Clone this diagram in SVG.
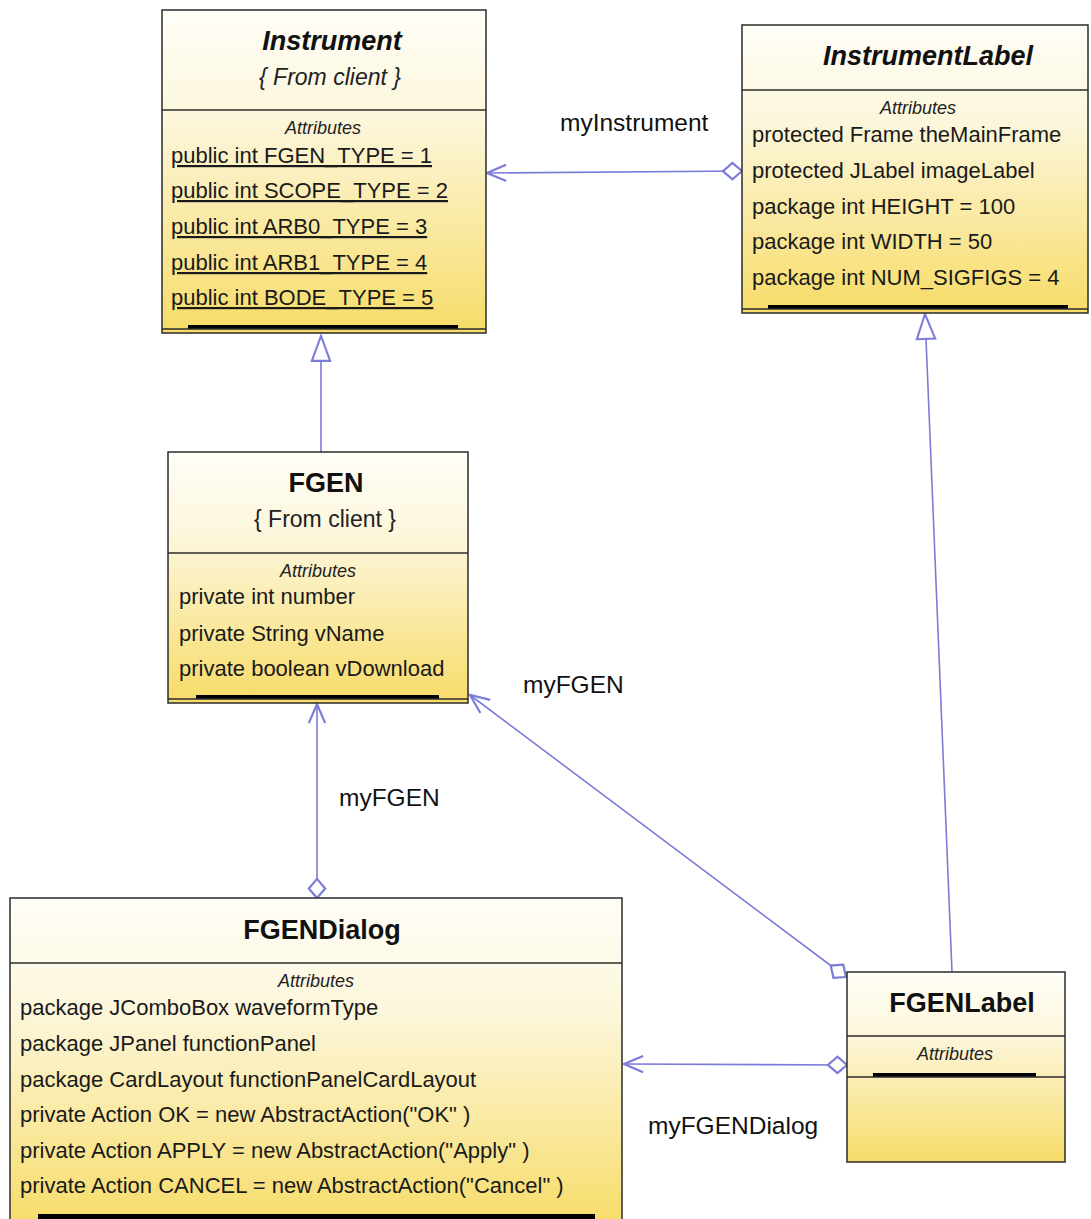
<svg xmlns="http://www.w3.org/2000/svg" width="1091" height="1219" viewBox="0 0 1091 1219">
  <style>
    .box { stroke: #2b2b2b; stroke-width: 1.5; fill: url(#classFill); }
    .div { stroke: #2b2b2b; stroke-width: 1.5; }
    .bar { fill: #000; }
    .title { font-family: "Liberation Sans", Arial, sans-serif; font-size: 27px; font-weight: bold; fill: #111; text-anchor: middle; }
    .abstract { font-style: italic; }
    .stereo { font-family: "Liberation Sans", Arial, sans-serif; font-size: 23px; fill: #222; text-anchor: middle; }
    .sect { font-family: "Liberation Sans", Arial, sans-serif; font-size: 18px; font-style: italic; fill: #222; text-anchor: middle; }
    .attr { font-family: "Liberation Sans", Arial, sans-serif; font-size: 22px; fill: #1a1a1a; }
    .static { text-decoration: underline; }
    .conn { stroke: #7b7bd8; stroke-width: 1.6; fill: none; }
    .role { font-family: "Liberation Sans", Arial, sans-serif; font-size: 24.5px; fill: #111; }
  </style>
  <defs>
    <linearGradient id="classFill" x1="0" y1="0" x2="0" y2="1">
      <stop offset="0" stop-color="#fffef8"/>
      <stop offset="0.35" stop-color="#fcf6da"/>
      <stop offset="1" stop-color="#f7dc68"/>
    </linearGradient>
    <marker id="openArrow" markerUnits="userSpaceOnUse" markerWidth="30" markerHeight="30" viewBox="-20 -10 22 20" refX="0" refY="0" orient="auto">
      <path d="M-14,-6 L0,0 L-14,6" fill="none" stroke="#7b7bd8" stroke-width="1.6"/>
    </marker>
    <marker id="diamond" markerUnits="userSpaceOnUse" markerWidth="30" markerHeight="30" viewBox="-2 -10 22 20" refX="0" refY="0" orient="auto">
      <path d="M0,0 L7,-6 L14,0 L7,6 Z" fill="#fff" stroke="#7b7bd8" stroke-width="1.6"/>
    </marker>
    <marker id="hollowTri" markerUnits="userSpaceOnUse" markerWidth="34" markerHeight="34" viewBox="-24 -12 26 24" refX="0" refY="0" orient="auto">
      <path d="M-19,-7 L0,0 L-19,7 Z" fill="#fff" stroke="#7b7bd8" stroke-width="1.6"/>
    </marker>
  </defs>
  <rect width="1091" height="1219" fill="#fff"/>

  <!-- associations and generalizations -->
  <g id="connectors">
    <line class="conn" x1="742" y1="171" x2="487" y2="173" marker-start="url(#diamond)" marker-end="url(#openArrow)"/>
    <line class="conn" x1="321" y1="452" x2="321" y2="336" marker-end="url(#hollowTri)"/>
    <line class="conn" x1="952" y1="972" x2="925" y2="314" marker-end="url(#hollowTri)"/>
    <line class="conn" x1="317" y1="898" x2="317" y2="704" marker-start="url(#diamond)" marker-end="url(#openArrow)"/>
    <line class="conn" x1="846" y1="977" x2="470" y2="695" marker-start="url(#diamond)" marker-end="url(#openArrow)"/>
    <line class="conn" x1="847" y1="1065" x2="624" y2="1064" marker-start="url(#diamond)" marker-end="url(#openArrow)"/>
    <text class="role" x="560" y="131">myInstrument</text>
    <text class="role" x="523" y="693">myFGEN</text>
    <text class="role" x="339" y="806">myFGEN</text>
    <text class="role" x="648" y="1134">myFGENDialog</text>
  </g>

  <!-- Instrument (abstract) -->
  <g id="Instrument">
    <rect class="box" x="162" y="10" width="324" height="323"/>
    <line class="div" x1="162" y1="110" x2="486" y2="110"/>
    <text class="title abstract" x="332" y="50">Instrument</text>
    <text class="stereo abstract" x="330" y="85">{ From client }</text>
    <text class="sect" x="323" y="134">Attributes</text>
    <text class="attr static" x="171" y="163">public int FGEN_TYPE = 1</text>
    <text class="attr static" x="171" y="198">public int SCOPE_TYPE = 2</text>
    <text class="attr static" x="171" y="234">public int ARB0_TYPE = 3</text>
    <text class="attr static" x="171" y="270">public int ARB1_TYPE = 4</text>
    <text class="attr static" x="171" y="305">public int BODE_TYPE = 5</text>
    <rect class="bar" x="188" y="325" width="270" height="4"/>
    <line class="div" x1="162" y1="329" x2="486" y2="329"/>
  </g>

  <!-- InstrumentLabel (abstract) -->
  <g id="InstrumentLabel">
    <rect class="box" x="742" y="25" width="346" height="288"/>
    <line class="div" x1="742" y1="90" x2="1088" y2="90"/>
    <text class="title abstract" x="928" y="65">InstrumentLabel</text>
    <text class="sect" x="918" y="114">Attributes</text>
    <text class="attr" x="752" y="142">protected Frame theMainFrame</text>
    <text class="attr" x="752" y="178">protected JLabel imageLabel</text>
    <text class="attr" x="752" y="214">package int HEIGHT = 100</text>
    <text class="attr" x="752" y="249">package int WIDTH = 50</text>
    <text class="attr" x="752" y="285">package int NUM_SIGFIGS = 4</text>
    <rect class="bar" x="768" y="305" width="300" height="4"/>
    <line class="div" x1="742" y1="309" x2="1088" y2="309"/>
  </g>

  <!-- FGEN -->
  <g id="FGEN">
    <rect class="box" x="168" y="452" width="300" height="251"/>
    <line class="div" x1="168" y1="553" x2="468" y2="553"/>
    <text class="title" x="326" y="492">FGEN</text>
    <text class="stereo" x="325" y="527">{ From client }</text>
    <text class="sect" x="318" y="577">Attributes</text>
    <text class="attr" x="179" y="604">private int number</text>
    <text class="attr" x="179" y="641">private String vName</text>
    <text class="attr" x="179" y="676">private boolean vDownload</text>
    <rect class="bar" x="196" y="695" width="243" height="4"/>
    <line class="div" x1="168" y1="699" x2="468" y2="699"/>
  </g>

  <!-- FGENDialog -->
  <g id="FGENDialog">
    <rect class="box" x="10" y="898" width="612" height="330"/>
    <line class="div" x1="10" y1="963" x2="622" y2="963"/>
    <text class="title" x="322" y="939">FGENDialog</text>
    <text class="sect" x="316" y="987">Attributes</text>
    <text class="attr" x="20" y="1015">package JComboBox waveformType</text>
    <text class="attr" x="20" y="1051">package JPanel functionPanel</text>
    <text class="attr" x="20" y="1087">package CardLayout functionPanelCardLayout</text>
    <text class="attr" x="20" y="1122">private Action OK = new AbstractAction("OK" )</text>
    <text class="attr" x="20" y="1158">private Action APPLY = new AbstractAction("Apply" )</text>
    <text class="attr" x="20" y="1193">private Action CANCEL = new AbstractAction("Cancel" )</text>
    <rect class="bar" x="38" y="1214" width="557" height="5"/>
  </g>

  <!-- FGENLabel -->
  <g id="FGENLabel">
    <rect class="box" x="847" y="972" width="218" height="190"/>
    <line class="div" x1="847" y1="1036" x2="1065" y2="1036"/>
    <text class="title" x="962" y="1012">FGENLabel</text>
    <text class="sect" x="955" y="1060">Attributes</text>
    <rect class="bar" x="873" y="1073" width="163" height="4"/>
    <line class="div" x1="847" y1="1077" x2="1065" y2="1077"/>
  </g>
</svg>
